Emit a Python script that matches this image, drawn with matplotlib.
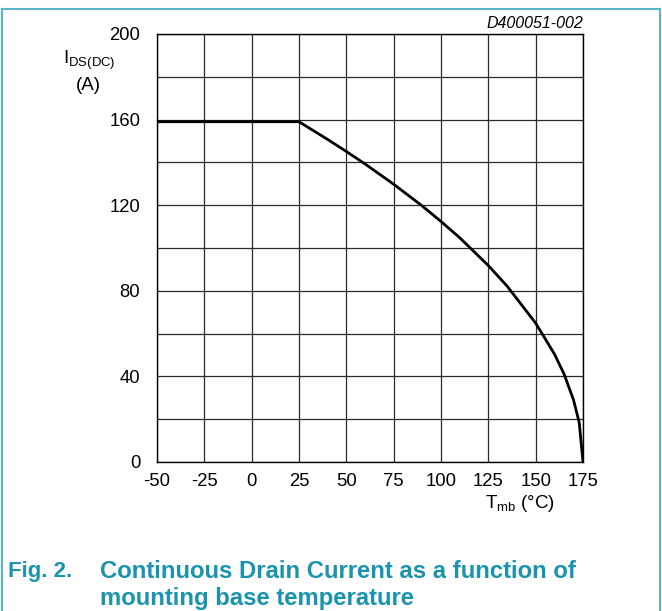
import matplotlib
matplotlib.use("Agg")
import matplotlib.pyplot as plt
from matplotlib.lines import Line2D

plt.rcParams['font.family'] = ['Liberation Sans', 'DejaVu Sans']
plt.rcParams['axes.unicode_minus'] = False

# Continuous drain current derating vs mounting base temperature
temp_c = [-50, 25, 40, 50, 60, 75, 90, 100, 110, 125, 135, 150, 160, 165, 170, 173, 175]
current_a = [159, 159, 150.8, 145.1, 139.2, 129.8, 119.7, 112.4, 104.7, 91.8, 82.1, 64.9, 50.3, 41.1, 29.0, 18.4, 0]

x_ticks = [-50, -25, 0, 25, 50, 75, 100, 125, 150, 175]
y_ticks = [0, 40, 80, 120, 160, 200]
y_grid = list(range(0, 201, 20))

W, H = 662, 611
fig = plt.figure(figsize=(W / 100, H / 100), dpi=100)
ax = fig.add_axes([157 / W, 1 - 462 / H, 426 / W, 428 / H])

ax.set_xlim(-50, 175)
ax.set_ylim(0, 200)
ax.set_xticks(x_ticks)
ax.set_yticks(y_ticks)
ax.tick_params(axis='both', which='both', length=0, labelsize=13.3)
ax.tick_params(axis='y', pad=12)
ax.tick_params(axis='x', pad=8)
for v in x_ticks:
    ax.axvline(v, color='#2a2a2a', lw=0.9, zorder=1)
for v in y_grid:
    ax.axhline(v, color='#2a2a2a', lw=0.9, zorder=1)
for s in ax.spines.values():
    s.set_linewidth(1.0)
    s.set_color('black')

ax.plot(temp_c, current_a, color='black', lw=2.0, zorder=3, solid_capstyle='butt')

# axis labels
fig.text(89 / W, 1 - 60 / H, r'I$_{\mathregular{DS(DC)}}$', ha='center', va='center', fontsize=13.5)
fig.text(88 / W, 1 - 86 / H, '(A)', ha='center', va='center', fontsize=13.5)
fig.text(520 / W, 1 - 504 / H, r'T$_{\mathregular{mb}}$ (°C)', ha='center', va='center', fontsize=13.5)
fig.text(583 / W, 1 - 23 / H, 'D400051-002', ha='right', va='center', fontsize=11.5, style='italic')

# caption
teal = '#1a93ae'
fig.text(8 / W, 1 - 571 / H, 'Fig. 2.', ha='left', va='center', fontsize=16, fontweight='bold', color=teal)
fig.text(100 / W, 1 - 571 / H, 'Continuous Drain Current as a function of', ha='left', va='center',
         fontsize=17.2, fontweight='bold', color=teal)
fig.text(100 / W, 1 - 598 / H, 'mounting base temperature', ha='left', va='center',
         fontsize=17.2, fontweight='bold', color=teal)

# frame around the figure
border = '#5ab4c8'
fig.add_artist(Line2D([2 / W, 2 / W], [0, 1 - 9 / H], color=border, lw=1.5, transform=fig.transFigure))
fig.add_artist(Line2D([659.5 / W, 659.5 / W], [0, 1 - 9 / H], color=border, lw=1.5, transform=fig.transFigure))
fig.add_artist(Line2D([2 / W, 659.5 / W], [1 - 9 / H, 1 - 9 / H], color=border, lw=1.5, transform=fig.transFigure))

fig.savefig('out.png', dpi=100)
